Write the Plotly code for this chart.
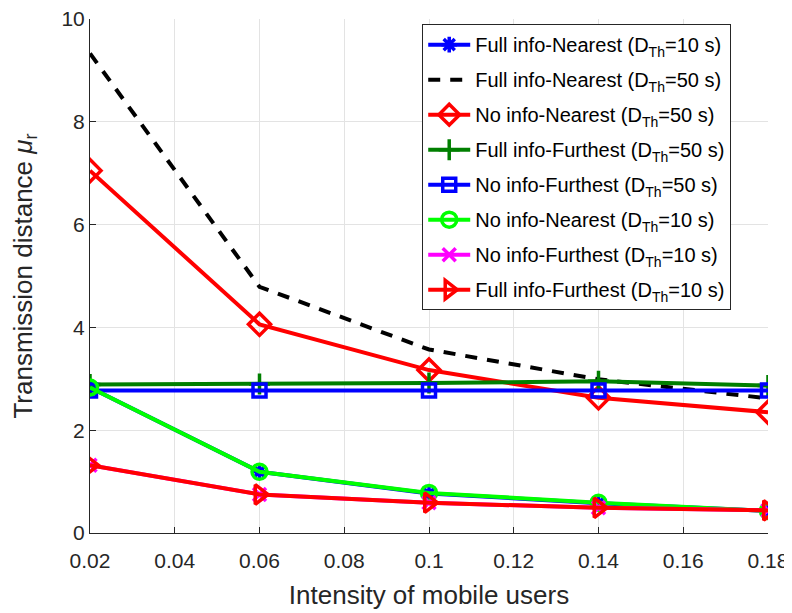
import plotly.graph_objects as go

# intensity of mobile users
intensity = [0.02, 0.06, 0.10, 0.14, 0.18]

# transmission distance per scheme
full_nearest_10 = [2.83, 1.19, 0.77, 0.58, 0.43]
full_nearest_50 = [9.33, 4.79, 3.57, 2.99, 2.62]
no_nearest_50 = [7.05, 4.06, 3.17, 2.63, 2.35]
full_furthest_50 = [2.89, 2.90, 2.92, 2.95, 2.87]
no_furthest_50 = [2.77, 2.77, 2.77, 2.77, 2.77]
no_nearest_10 = [2.83, 1.19, 0.78, 0.59, 0.43]
no_furthest_10 = [1.32, 0.75, 0.59, 0.49, 0.44]
full_furthest_10 = [1.32, 0.75, 0.59, 0.49, 0.44]

x_ticks = [0.02, 0.04, 0.06, 0.08, 0.10, 0.12, 0.14, 0.16, 0.18]
x_tick_text = ["0.02", "0.04", "0.06", "0.08", "0.1", "0.12", "0.14", "0.16", "0.18"]
y_ticks = [0, 2, 4, 6, 8, 10]

FONT = "Liberation Sans, Arial, sans-serif"
INK = "#262626"

series = [
    ("Full info-Nearest (D<sub>Th</sub>=10 s)", full_nearest_10, "#0000ff", "asterisk-open", 13),
    ("Full info-Nearest (D<sub>Th</sub>=50 s)", full_nearest_50, "#000000", None, 0),
    ("No info-Nearest (D<sub>Th</sub>=50 s)", no_nearest_50, "#ff0000", "diamond-open", 17),
    ("Full info-Furthest (D<sub>Th</sub>=50 s)", full_furthest_50, "#007f00", "cross-thin-open", 15),
    ("No info-Furthest (D<sub>Th</sub>=50 s)", no_furthest_50, "#0000ff", "square-open", 13),
    ("No info-Nearest (D<sub>Th</sub>=10 s)", no_nearest_10, "#00ff00", "circle-open", 15),
    ("No info-Furthest (D<sub>Th</sub>=10 s)", no_furthest_10, "#ff00ff", "x-thin-open", 13),
    ("Full info-Furthest (D<sub>Th</sub>=10 s)", full_furthest_10, "#ff0000", "triangle-right-open", 17),
]

fig = go.Figure()
for name, ys, color, symbol, size in series:
    if symbol is None:
        fig.add_trace(go.Scatter(
            x=intensity, y=ys, name=name, legendgroup=name, mode="lines",
            line=dict(color=color, width=4, dash="12px,10px"),
        ))
    else:
        fig.add_trace(go.Scatter(
            x=intensity, y=ys, name=name, legendgroup=name, mode="lines+markers",
            line=dict(color=color, width=4),
            marker=dict(symbol=symbol, size=size, color=color,
                        line=dict(color=color, width=3.5)),
        ))

axis_common = dict(
    showline=True, linecolor=INK, linewidth=1,
    showgrid=True, gridcolor="#e3e3e3", gridwidth=1,
    ticks="inside", ticklen=6, tickcolor=INK,
    tickfont=dict(family=FONT, size=21, color=INK),
    zeroline=False, mirror=False, automargin=False,
    ticklabeloverflow="allow",
)

fig.update_xaxes(
    range=[0.02, 0.18], tickvals=x_ticks, ticktext=x_tick_text,
    ticklabelstandoff=9,
    title=dict(text="Intensity of mobile users",
               font=dict(family=FONT, size=26, color=INK), standoff=14),
    **axis_common,
)
fig.update_yaxes(
    range=[0, 10], tickvals=y_ticks, ticklabelstandoff=0,
    title=dict(text="Transmission distance <i>μ</i><sub>r</sub>",
               font=dict(family=FONT, size=26, color=INK), standoff=26),
    **axis_common,
)

# the page body has an 8px margin, so the figure is a bit smaller than the window
fig.update_layout(
    width=784, height=605,
    margin=dict(l=82, r=24, t=11, b=80),
    plot_bgcolor="white", paper_bgcolor="white",
    font=dict(family=FONT, color=INK),
    legend=dict(
        x=0.49, y=0.99, xanchor="left", yanchor="top",
        bgcolor="white", bordercolor=INK, borderwidth=1,
        font=dict(family=FONT, size=20, color="#000000"),
        itemwidth=42, tracegroupgap=6,
    ),
)

fig.write_html("out.html")
